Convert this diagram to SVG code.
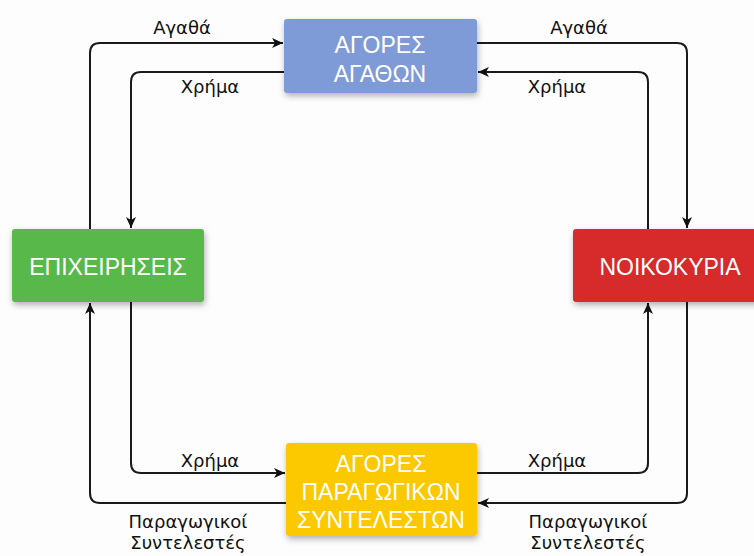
<svg xmlns="http://www.w3.org/2000/svg" width="754" height="556" viewBox="0 0 754 556">
<defs>
<marker id="ah" markerUnits="userSpaceOnUse" markerWidth="12" markerHeight="12" refX="11" refY="5" orient="auto">
<path d="M0,0 L11,5 L0,10 L3,5 Z" fill="#111"/>
</marker>
<filter id="sh" x="-10%" y="-10%" width="130%" height="140%">
<feDropShadow dx="1" dy="3" stdDeviation="3" flood-color="#000" flood-opacity="0.3"/>
</filter>
<style>
.conn{fill:none;stroke:#1a1a1a;stroke-width:2;marker-end:url(#ah)}
.lbl{font-family:"DejaVu Sans",sans-serif;font-size:18px;fill:#111;text-anchor:middle}
.bt{font-family:"Liberation Sans",Arial,sans-serif;font-size:23px;fill:#fff;text-anchor:middle}
</style>
</defs>
<rect width="754" height="556" fill="#fdfdfd"/>
<g id="connectors">
<path class="conn" d="M90,229 V53 Q90,43 100,43 H283"/>
<path class="conn" d="M284,72 H141 Q131,72 131,82 V228"/>
<path class="conn" d="M477,43 H677 Q687,43 687,53 V228"/>
<path class="conn" d="M648,229 V82 Q648,72 638,72 H478"/>
<path class="conn" d="M131,302 V463 Q131,473 141,473 H285"/>
<path class="conn" d="M286,503 H100 Q90,503 90,493 V303"/>
<path class="conn" d="M477,473 H638 Q648,473 648,463 V303"/>
<path class="conn" d="M687,302 V493 Q687,503 677,503 H478"/>
</g>
<g id="labels">
<text class="lbl" x="182" y="34">Αγαθά</text>
<text class="lbl" x="579" y="34">Αγαθά</text>
<text class="lbl" x="210" y="93">Χρήμα</text>
<text class="lbl" x="557" y="93">Χρήμα</text>
<text class="lbl" x="210" y="467">Χρήμα</text>
<text class="lbl" x="557" y="467">Χρήμα</text>
<text class="lbl" x="188" y="528">Παραγωγικοί</text>
<text class="lbl" x="188" y="549">Συντελεστές</text>
<text class="lbl" x="588" y="528">Παραγωγικοί</text>
<text class="lbl" x="588" y="549">Συντελεστές</text>
</g>
<g id="agores-agathon">
<rect x="284" y="19" width="193" height="74" rx="3" fill="#7f9bd7" filter="url(#sh)"/>
<text class="bt" x="380" y="53">ΑΓΟΡΕΣ</text>
<text class="bt" x="380" y="82">ΑΓΑΘΩΝ</text>
</g>
<g id="epixeiriseis">
<rect x="12" y="229" width="192" height="73" rx="3" fill="#59b848" filter="url(#sh)"/>
<text class="bt" x="108" y="275">ΕΠΙΧΕΙΡΗΣΕΙΣ</text>
</g>
<g id="noikokyria">
<rect x="573" y="229" width="194" height="73" rx="3" fill="#d72b2b" filter="url(#sh)"/>
<text class="bt" x="670" y="275">ΝΟΙΚΟΚΥΡΙΑ</text>
</g>
<g id="agores-paragogikon">
<rect x="286" y="443" width="191" height="93" rx="3" fill="#fcc800" filter="url(#sh)"/>
<text class="bt" x="381" y="472">ΑΓΟΡΕΣ</text>
<text class="bt" x="381" y="500">ΠΑΡΑΓΩΓΙΚΩΝ</text>
<text class="bt" x="381" y="528">ΣΥΝΤΕΛΕΣΤΩΝ</text>
</g>
</svg>
